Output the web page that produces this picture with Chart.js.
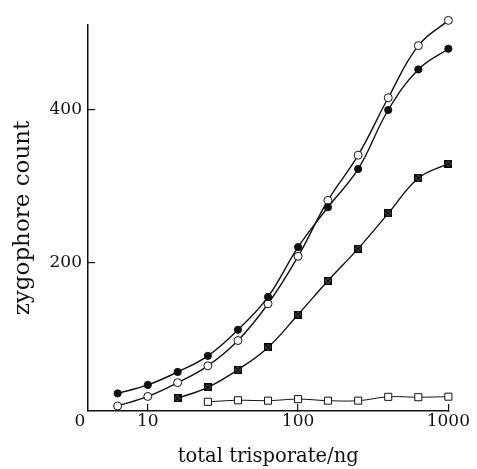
<!DOCTYPE html>
<html>
<head>
<meta charset="utf-8">
<script src="https://cdn.jsdelivr.net/npm/chart.js@4/dist/chart.umd.min.js"></script>
<style>
html,body{margin:0;padding:0;background:#fff;}
canvas{display:block;}
</style>
</head>
<body>
<canvas id="c" width="477" height="469"></canvas>
<script>
// x values: total trisporate (ng), steps of 10^0.2
const doses = [6.3, 10, 15.8, 25.1, 39.8, 63.1, 100, 158, 251, 398, 631, 1000];
const filledCircles = [29, 40, 57, 78, 112, 155, 220, 272, 322, 399, 452, 479];
const openCircles   = [12.5, 25, 43, 65, 98, 146, 208, 281, 340, 415, 483, 516];
const crossedSquares = [22.6, 37, 60, 89, 132, 176, 218, 264, 310, 329];       // from 15.8 ng
const openSquares    = [18, 20, 19.5, 21.5, 19.5, 19.5, 24.5, 24, 24.7];       // from 25 ng
const xTickValues = [10, 100, 1000];
const yTickValues = [200, 400];
const xTitle = 'total trisporate/ng';
const yTitle = 'zygophore count';
const originLabel = '0';

function pairs(xs, ys){ const off = xs.length - ys.length; return ys.map((y,i)=>({x:xs[i+off], y})); }

function crossSquare(){
  const c = document.createElement('canvas'); c.width = 8; c.height = 8;
  const g = c.getContext('2d');
  g.fillStyle = '#555'; g.fillRect(0,0,8,8);
  g.strokeStyle = '#000'; g.lineWidth = 1.2;
  g.strokeRect(0.6,0.6,6.8,6.8);
  g.beginPath(); g.moveTo(0,0); g.lineTo(8,8); g.moveTo(8,0); g.lineTo(0,8); g.stroke();
  return c;
}

const ink = '#111';
const base = {borderColor: ink, borderWidth: 1.4, tension: 0.4, clip: false, pointBorderColor: ink, pointBorderWidth: 1};

const originPlugin = {
  id: 'origin',
  afterDraw(chart){
    const xs = chart.scales.x, ctx = chart.ctx;
    ctx.save();
    ctx.font = '17px "DejaVu Serif"';
    ctx.fillStyle = ink; ctx.textAlign = 'center'; ctx.textBaseline = 'middle';
    ctx.fillText(originLabel, xs.left - 8, xs.top + 10.7);
    ctx.restore();
  }
};

new Chart(document.getElementById('c'), {
  type: 'line',
  data: {
    datasets: [
      Object.assign({}, base, {label:'open squares', data: pairs(doses, openSquares), pointStyle:'rect', pointRadius:5, pointBackgroundColor:'#fff', borderWidth:1}),
      Object.assign({}, base, {label:'crossed squares', data: pairs(doses, crossedSquares), pointStyle: crossSquare(), pointRadius:4}),
      Object.assign({}, base, {label:'filled circles', data: pairs(doses, filledCircles), pointStyle:'circle', pointRadius:3.6, pointBackgroundColor: ink}),
      Object.assign({}, base, {label:'open circles', data: pairs(doses, openCircles), pointStyle:'circle', pointRadius:4, pointBackgroundColor:'#fff'})
    ]
  },
  options: {
    responsive: false,
    animation: false,
    layout: {padding: {left: 0, right: 25, top: 25, bottom: 0}},
    plugins: {legend: {display: false}, tooltip: {enabled: false}},
    scales: {
      x: {
        type: 'logarithmic', min: 4, max: 1000,
        afterBuildTicks: s => { s.ticks = xTickValues.map(v => ({value: v, major: true})); },
        afterFit: s => { s.height = 58; },
        ticks: {color: ink, font: {family: '"DejaVu Serif"', size: 17}, padding: 7, maxRotation: 0, autoSkip: false, callback: v => String(v)},
        grid: {display: true, drawOnChartArea: false, drawTicks: true, tickLength: -7, color: ink, lineWidth: 1.2},
        border: {display: true, color: ink, width: 1.5},
        title: {display: true, text: xTitle, color: ink, font: {family: '"DejaVu Serif"', size: 19.5}, padding: {top: 0, bottom: 0}}
      },
      y: {
        min: 6, max: 510,
        afterBuildTicks: s => { s.ticks = yTickValues.map(v => ({value: v})); },
        afterFit: s => { s.width = 88; },
        ticks: {color: ink, font: {family: '"DejaVu Serif"', size: 17}, padding: 13},
        grid: {display: true, drawOnChartArea: false, drawTicks: true, tickLength: -7, color: ink, lineWidth: 1.2},
        border: {display: true, color: ink, width: 1.5},
        title: {display: true, text: yTitle, color: ink, font: {family: '"DejaVu Serif"', size: 23}, padding: {top: 9, bottom: 0}}
      }
    }
  },
  plugins: [originPlugin]
});
</script>
</body>
</html>
